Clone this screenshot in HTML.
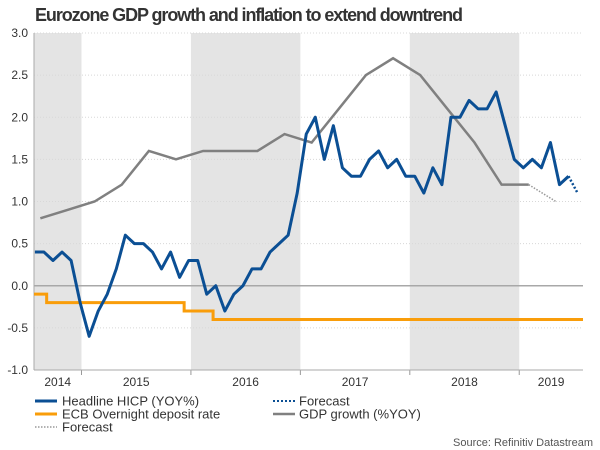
<!DOCTYPE html>
<html><head><meta charset="utf-8"><style>
body{margin:0;background:#fff;}
svg{display:block;font-family:"Liberation Sans",sans-serif;}
</style></head><body>
<svg id="chart" width="600" height="450">
<text x="35" y="21" font-size="18" font-weight="bold" fill="#333" textLength="428">Eurozone GDP growth and inflation to extend downtrend</text>
<g id="shade"></g><g id="grid"></g><g id="axes"></g><g id="series"></g>
<g font-size="13" fill="#333">
<line x1="35" y1="401" x2="57" y2="401" stroke="#0b4f94" stroke-width="3"/>
<text x="62" y="405.5">Headline HICP (YOY%)</text>
<line x1="35" y1="414" x2="57" y2="414" stroke="#f99d0a" stroke-width="3"/>
<text x="62" y="418.5">ECB Overnight deposit rate</text>
<line x1="35" y1="427" x2="57" y2="427" stroke="#999" stroke-width="1.5" stroke-dasharray="1.5,1.5"/>
<text x="62" y="431.5">Forecast</text>
<line x1="273" y1="401" x2="295" y2="401" stroke="#0b4f94" stroke-width="2" stroke-dasharray="2,2"/>
<text x="299" y="405.5">Forecast</text>
<line x1="273" y1="414" x2="295" y2="414" stroke="#808080" stroke-width="2.5"/>
<text x="299" y="418.5">GDP growth (%YOY)</text>
</g>
<text x="593" y="446" font-size="11" fill="#555" text-anchor="end">Source: Refinitiv Datastream</text>
</svg>
<script>
const hicpValues=[0.4,0.4,0.3,0.4,0.3,-0.2,-0.6,-0.3,-0.1,0.2,0.6,0.5,0.5,0.4,0.2,0.4,0.1,0.3,0.3,-0.1,0,-0.3,-0.1,0,0.2,0.2,0.4,0.5,0.6,1.1,1.8,2.0,1.5,1.9,1.4,1.3,1.3,1.5,1.6,1.4,1.5,1.3,1.3,1.1,1.4,1.2,2.0,2.0,2.2,2.1,2.1,2.3,1.9,1.5,1.4,1.5,1.4,1.7,1.2,1.3];
const hicpForecast=[1.3,1.1];
const gdpMonths=[0.6,3.6,6.6,9.6,12.6,15.6,18.6,21.6,24.6,27.6,30.6,33.6,36.6,39.6,42.6,45.6,48.6,51.6,54.6];
const gdpValues=[0.8,0.9,1.0,1.2,1.6,1.5,1.6,1.6,1.6,1.8,1.7,2.1,2.5,2.7,2.5,2.1,1.7,1.2,1.2];
const gdpForecastMonths=[54.6,57.6];
const gdpForecastValues=[1.2,1.0];
const ecbChangeMonths=[-0.1,1.3,16.5,19.7];
const ecbRates=[-0.1,-0.2,-0.3,-0.4];
const yTicks=[3.0,2.5,2.0,1.5,1.0,0.5,0.0,-0.5,-1.0];
const yearLabels=["2014","2015","2016","2017","2018","2019"];
const yearStarts=[-0.1,5.15,17.25,29.35,41.45,53.55];

const L=34,R=583,T=33,B=370,I0=-0.1,I1=60.6;
const xs=i=>L+(i-I0)/(I1-I0)*(R-L);
const ys=v=>B-(v+1)/4*(B-T);
const NS="http://www.w3.org/2000/svg";
function mk(parent,tag,attrs){const e=document.createElementNS(NS,tag);for(const k in attrs)e.setAttribute(k,attrs[k]);document.getElementById(parent).appendChild(e);return e;}

yearStarts.forEach((s,k)=>{
  const e=k+1<yearStarts.length?yearStarts[k+1]:I1;
  if(k%2===0){const r=mk('shade','rect',{x:xs(s),y:T,width:xs(e)-xs(s),height:B-T,fill:'#e4e4e4'});
    
    }
  const t=mk('axes','text',{x:(xs(s)+xs(e))/2,y:386,'font-size':12,fill:'#333','text-anchor':'middle'});
  t.textContent=yearLabels[k];
  
  
  if(k>0){const tk=mk('axes','line',{x1:xs(s),x2:xs(s),y1:B,y2:B+5,stroke:'#999'});
    
    }
});
yTicks.forEach(v=>{
  const g=mk('grid','line',{x1:L,x2:R,y1:ys(v),y2:ys(v),stroke:v===0?'#a8a8a8':'#d8d8d8','stroke-width':v===0?1.5:1,'stroke-dasharray':v===0?'':'1,2'});
  
  
  const t=mk('axes','text',{x:28,y:ys(v)+4,'font-size':12,fill:'#333','text-anchor':'end'});
  t.textContent=v.toFixed(1);
  
  
});
const ya=mk('axes','line',{x1:L,x2:L,y1:T,y2:B,stroke:'#aaa'});


const xa=mk('axes','line',{x1:L,x2:R,y1:B,y2:B,stroke:'#aaa'});



// ECB step
let d='';
ecbRates.forEach((r,k)=>{const s=ecbChangeMonths[k],e=k+1<ecbRates.length?ecbChangeMonths[k+1]:I1;
  d+=(k===0?'M':'L')+xs(s)+','+ys(r)+' L'+xs(e)+','+ys(r)+' ';});
const ecb=mk('series','path',{d:d,fill:'none',stroke:'#f99d0a','stroke-width':3});



const gdp=mk('series','polyline',{points:gdpValues.map((v,k)=>xs(gdpMonths[k])+','+ys(v)).join(' '),fill:'none',stroke:'#808080','stroke-width':2.5});


const gdpf=mk('series','polyline',{points:gdpForecastValues.map((v,k)=>xs(gdpForecastMonths[k])+','+ys(v)).join(' '),fill:'none',stroke:'#999','stroke-width':1.5,'stroke-dasharray':'1.5,1.5'});



const h=mk('series','polyline',{points:hicpValues.map((v,i)=>xs(i)+','+ys(v)).join(' '),fill:'none',stroke:'#0b4f94','stroke-width':3,'stroke-linejoin':'round'});


const n=hicpValues.length-1;
const hf=mk('series','polyline',{points:hicpForecast.map((v,k)=>xs(n+k)+','+ys(v)).join(' '),fill:'none',stroke:'#0b4f94','stroke-width':2.5,'stroke-dasharray':'2,2'});


</script>
</body></html>
